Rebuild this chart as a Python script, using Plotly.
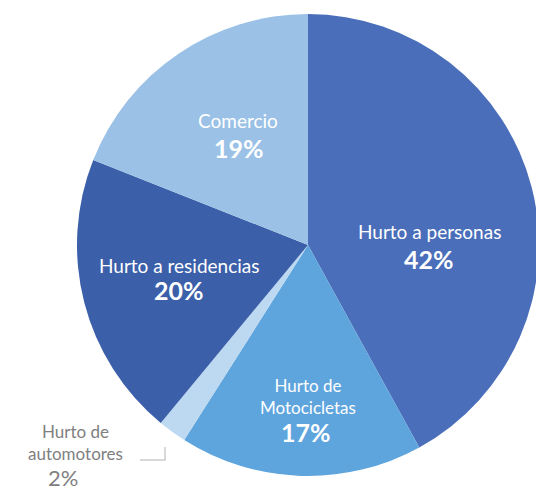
import plotly.graph_objects as go

categories = ["Hurto a personas", "Hurto de Motocicletas", "Hurto de automotores", "Hurto a residencias", "Comercio"]
values = [42, 17, 2, 20, 19]
colors = ["#4a6eb9", "#5ea4dd", "#bcd9f1", "#3b5fa9", "#9bc2e6"]

W, H = 544, 495
OX, OY = 8, 8  # page body margin


def px(x, y):
    return (x - OX) / W, 1 - (y - OY) / H


CX, CY, R = 308, 245, 231
x0, y1 = px(CX - R, CY - R)
x1, y0 = px(CX + R, CY + R)

fig = go.Figure(go.Pie(
    labels=categories, values=values, sort=False, direction="clockwise", rotation=0,
    marker=dict(colors=colors, line=dict(width=0)),
    textinfo="none", hoverinfo="label+percent", showlegend=False,
    domain=dict(x=[x0, x1], y=[y0, y1]),
))

# label lines and their pixel centres (x, y of label block, y of percent, x of percent, colour, font sizes)
label_lines = {
    "Hurto a personas": ["Hurto a personas"],
    "Hurto de Motocicletas": ["Hurto de", "Motocicletas"],
    "Hurto de automotores": ["Hurto de", "automotores"],
    "Hurto a residencias": ["Hurto a residencias"],
    "Comercio": ["Comercio"],
}
label_pos = {
    "Hurto a personas": (429, 231, 259, 429, "white", 19, 25),
    "Hurto de Motocicletas": (308, 396, 432, 306, "white", 17, 25),
    "Hurto de automotores": (75, 442, 477, 63, "#808080", 17, 22),
    "Hurto a residencias": (179, 265, 290, 179, "white", 19, 25),
    "Comercio": (238, 120, 148, 239, "white", 19, 25),
}
font = "Lato, 'Open Sans', sans-serif"
ann = []
for cat, val in zip(categories, values):
    x, yl, yp, xp, col, fs, fp = label_pos[cat]
    ax, ay = px(x, yl)
    ann.append(dict(x=ax, y=ay, xref="paper", yref="paper", text="<br>".join(label_lines[cat]),
                    showarrow=False, align="center",
                    font=dict(family=font, size=fs, color=col),
                    xanchor="center", yanchor="middle"))
    ax, ay = px(xp, yp)
    ann.append(dict(x=ax, y=ay, xref="paper", yref="paper",
                    text=f"<b>{val}%</b>" if col == "white" else f"{val}%", showarrow=False,
                    font=dict(family=font, size=fp, color=col),
                    xanchor="center", yanchor="middle"))

a, b = px(140, 460)
c, d = px(165, 447)
fig.update_layout(
    width=W, height=H, margin=dict(l=0, r=0, t=0, b=0),
    paper_bgcolor="white", plot_bgcolor="white",
    annotations=ann,
    shapes=[dict(type="path", xref="paper", yref="paper",
                 path=f"M {a},{b} L {c},{b} L {c},{d}",
                 line=dict(color="#cccccc", width=1.5))],
)
fig.write_html("out.html")
